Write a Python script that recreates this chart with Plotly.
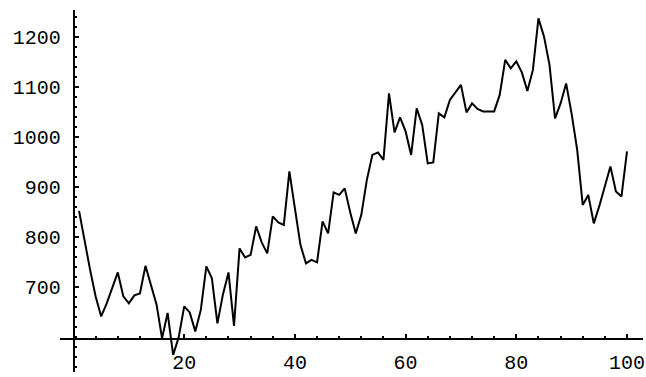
import plotly.graph_objects as go

# Data (index 1..100)
x_values = list(range(1, 101))
y_values = [
    853, 792, 735, 682, 642, 668, 699, 730, 682, 668,
    684, 688, 743, 702, 666, 598, 649, 565, 600, 662,
    650, 612, 655, 742, 718, 628, 686, 730, 623, 778,
    760, 765, 822, 790, 768, 842, 830, 825, 932, 858,
    785, 748, 755, 750, 832, 808, 890, 885, 898, 850,
    808, 845, 915, 965, 970, 955, 1088, 1010, 1040, 1012,
    965, 1058, 1025, 948, 950, 1048, 1040, 1075, 1090, 1105,
    1050, 1068, 1057, 1052, 1052, 1052, 1085, 1155, 1138, 1152,
    1130, 1093, 1135, 1238, 1202, 1145, 1038, 1068, 1108, 1047,
    975, 865, 885, 828, 863, 900, 942, 892, 882, 972,
]
x_tick_vals = [20, 40, 60, 80, 100]
y_tick_vals = [700, 800, 900, 1000, 1100, 1200]

x_range = [-2.44, 102.89]
y_range = [530.8, 1254.8]
x_origin = 0
y_origin = 596.2

font = dict(family="Liberation Mono, Courier New, monospace", size=20, color="black")

fig = go.Figure()
fig.add_trace(go.Scatter(
    x=x_values, y=y_values, mode="lines",
    line=dict(color="black", width=2),
    showlegend=False, hoverinfo="skip",
))

fig.update_layout(
    width=646, height=377,
    margin=dict(l=60, r=3, t=10, b=5),
    paper_bgcolor="white", plot_bgcolor="white",
    font=font,
    xaxis=dict(
        range=x_range, showgrid=False, zeroline=False,
        showline=True, linecolor="black", linewidth=1.5,
        anchor="free",
        position=(y_origin - y_range[0]) / (y_range[1] - y_range[0]),
        side="bottom",
        tickmode="array", tickvals=x_tick_vals,
        ticks="inside", ticklen=5, tickwidth=1.5, tickcolor="black",
        ticklabelstandoff=5,
        minor=dict(ticks="inside", ticklen=3, tickwidth=1.5, tickcolor="black",
                   tick0=0, dtick=4, showgrid=False),
        tickfont=font, automargin=False,
    ),
    yaxis=dict(
        range=y_range, showgrid=False, zeroline=False,
        showline=True, linecolor="black", linewidth=1.5,
        anchor="free",
        position=(x_origin - x_range[0]) / (x_range[1] - x_range[0]),
        side="left",
        tickmode="array", tickvals=y_tick_vals,
        ticks="inside", ticklen=5, tickwidth=1.5, tickcolor="black",
        ticklabelstandoff=8,
        minor=dict(ticks="inside", ticklen=3, tickwidth=1.5, tickcolor="black",
                   tick0=0, dtick=20, showgrid=False),
        tickfont=font, automargin=False,
    ),
)

fig.write_html("out.html")
